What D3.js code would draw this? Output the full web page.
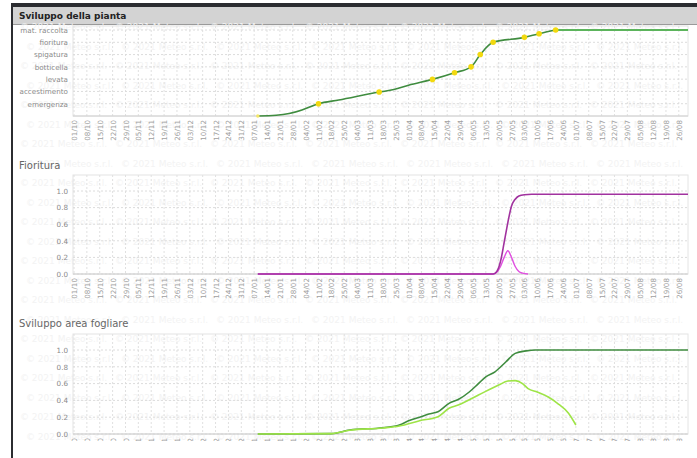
<!DOCTYPE html>
<html>
<head>
<meta charset="utf-8">
<script src="https://cdn.jsdelivr.net/npm/d3@7"></script>
<style>
  body { margin: 0; background: #fff; }
  svg { display: block; font-family: "DejaVu Sans", Verdana, sans-serif; }
</style>
</head>
<body>
<div id="chart"></div>
<script>
// Sviluppo della pianta: fase fenologica (0 = pre-emergenza)
var stageNames = ["emergenza", "accestimento", "levata", "botticella", "spigatura", "fioritura", "mat. raccolta"];
var stageDates = ["2021-01-09", "2021-01-19", "2021-01-26", "2021-02-02", "2021-02-11", "2021-02-22", "2021-03-16",
  "2021-03-24", "2021-04-01", "2021-04-14", "2021-04-26", "2021-05-05", "2021-05-10", "2021-05-17",
  "2021-06-03", "2021-06-11", "2021-06-20", "2021-08-31"];
var stageValues = [0, 0.06, 0.2, 0.49, 1.0, 1.3, 1.95, 2.15, 2.5, 2.98, 3.52, 4.0, 5.0, 6.0, 6.4, 6.7, 7.0, 7.0];
var stageMarks = ["2021-01-09", "2021-02-11", "2021-03-16", "2021-04-14", "2021-04-26", "2021-05-05",
  "2021-05-10", "2021-05-17", "2021-06-03", "2021-06-11", "2021-06-20"];

// Fioritura
var flowerDates = ["2021-01-09", "2021-05-17", "2021-05-19", "2021-05-21", "2021-05-23", "2021-05-25",
  "2021-05-27", "2021-05-29", "2021-05-31", "2021-06-03", "2021-06-07", "2021-08-31"];
var flowerCum = [0, 0, 0.03, 0.15, 0.38, 0.62, 0.82, 0.9, 0.94, 0.955, 0.96, 0.96];
var dailyDates = ["2021-01-09", "2021-05-17", "2021-05-19", "2021-05-21", "2021-05-23", "2021-05-25",
  "2021-05-27", "2021-05-29", "2021-05-31", "2021-06-02", "2021-06-05"];
var flowerDaily = [0, 0, 0.02, 0.09, 0.2, 0.28, 0.2, 0.09, 0.03, 0.01, 0];

// Sviluppo area fogliare
var leafDates = ["2021-01-09", "2021-02-18", "2021-02-28", "2021-03-18", "2021-03-27", "2021-04-01",
  "2021-04-07", "2021-04-12", "2021-04-17", "2021-04-23", "2021-04-28", "2021-05-04", "2021-05-09",
  "2021-05-13", "2021-05-18", "2021-05-24", "2021-05-29", "2021-06-04", "2021-06-09", "2021-08-31"];
var leafPotential = [0, 0.005, 0.048, 0.075, 0.107, 0.158, 0.2, 0.238, 0.265, 0.365, 0.41, 0.5, 0.6,
  0.68, 0.74, 0.86, 0.96, 0.99, 1.0, 1.0];
var greenDates = ["2021-01-09", "2021-02-18", "2021-02-28", "2021-03-18", "2021-03-27", "2021-04-07",
  "2021-04-17", "2021-04-23", "2021-04-28", "2021-05-09", "2021-05-20", "2021-05-25", "2021-05-29",
  "2021-06-02", "2021-06-05", "2021-06-10", "2021-06-16", "2021-06-21", "2021-06-27", "2021-07-01"];
var leafGreen = [0, 0.005, 0.045, 0.072, 0.095, 0.158, 0.206, 0.306, 0.345, 0.464, 0.583, 0.63, 0.635,
  0.6, 0.54, 0.5, 0.44, 0.365, 0.246, 0.107];

var W = 697, H = 458;
var parse = d3.timeParse("%Y-%m-%d");
var fmt = d3.timeFormat("%d/%m");
var start = parse("2020-10-01"), end = parse("2021-08-31");
var weeks = d3.timeThursday.range(start, end);

var svg = d3.select("#chart").append("svg")
  .attr("width", W)
  .attr("height", H);

// frame
svg.append("rect").attr("x", 11).attr("y", 3).attr("width", W - 11).attr("height", 4).attr("fill", "#2b2c30");
svg.append("rect").attr("x", 11).attr("y", 7).attr("width", W - 11).attr("height", 17).attr("fill", "#d3d3d3");
svg.append("line").attr("x1", 11).attr("x2", W).attr("y1", 24.5).attr("y2", 24.5).attr("stroke", "#9a9a9a");
svg.append("rect").attr("x", 11).attr("y", 3).attr("width", 2).attr("height", H - 3).attr("fill", "#2b2c30");
svg.append("text").attr("x", 19).attr("y", 19).attr("font-size", 9).attr("font-weight", "bold")
  .attr("fill", "#222").text("Sviluppo della pianta");

// watermark (very faint)
var wm = svg.append("g").attr("fill", "#f3f3f3").attr("font-size", 9);
d3.range(30, 440, 19.5).forEach(function(y, i) {
  d3.range(20 + (i % 2) * 6, W - 95, 95).forEach(function(x) {
    wm.append("text").attr("x", x).attr("y", y).text("© 2021 Meteo s.r.l.");
  });
});

var x = d3.scaleTime().domain([start, end]).range([74, 688]);

var panels = [
  { top: 26, base: 116, y: d3.scaleLinear().domain([0, 7]).range([116, 30]),
    ticks: [1, 2, 3, 4, 5, 6, 7], label: function(d) { return stageNames[d - 1]; } },
  { top: 175, base: 274, y: d3.scaleLinear().domain([0, 1]).range([274, 191]),
    ticks: [0, 0.2, 0.4, 0.6, 0.8, 1.0], label: d3.format(".1f"), title: "Fioritura", titleY: 169 },
  { top: 334, base: 434, y: d3.scaleLinear().domain([0, 1]).range([434, 350]),
    ticks: [0, 0.2, 0.4, 0.6, 0.8, 1.0], label: d3.format(".1f"), title: "Sviluppo area fogliare", titleY: 327 }
];

svg.append("clipPath").attr("id", "pageclip")
  .append("rect").attr("x", 0).attr("y", 0).attr("width", W).attr("height", 441);

panels.forEach(function(p) {
  var g = svg.append("g").attr("clip-path", "url(#pageclip)");
  if (p.title) {
    g.append("text").attr("x", 19).attr("y", p.titleY).attr("font-size", 10)
      .attr("fill", "#666").text(p.title);
  }
  g.append("rect").attr("x", 73).attr("y", p.top).attr("width", 615).attr("height", p.base - p.top)
    .attr("fill", "none").attr("stroke", "#e4e4e4");

  g.selectAll(".vg").data(weeks).enter().append("line")
    .attr("x1", d => x(d)).attr("x2", d => x(d))
    .attr("y1", p.top).attr("y2", p.base)
    .attr("stroke", "#e0e0e0").attr("stroke-dasharray", "2,2");
  g.selectAll(".hg").data(p.ticks).enter().append("line")
    .attr("x1", 73).attr("x2", 688)
    .attr("y1", d => p.y(d)).attr("y2", d => p.y(d))
    .attr("stroke", "#dcdcdc").attr("stroke-dasharray", "2,2");
  g.append("line").attr("x1", 73).attr("x2", 688).attr("y1", p.base).attr("y2", p.base)
    .attr("stroke", "#d0d0d0");

  var leftAxis = d3.axisLeft(p.y).tickValues(p.ticks).tickFormat(p.label).tickSize(0).tickPadding(5);
  var ly = g.append("g").attr("transform", "translate(73,0)").call(leftAxis);
  ly.select(".domain").remove();
  ly.selectAll("text").attr("fill", "#8a8a8a").attr("font-size", 7.2).attr("font-family", "DejaVu Sans, sans-serif");

  var bottomAxis = d3.axisBottom(x).tickValues(weeks).tickFormat(fmt).tickSize(0).tickPadding(0);
  var bx = g.append("g").attr("transform", "translate(0," + p.base + ")").call(bottomAxis);
  bx.select(".domain").remove();
  bx.selectAll("text")
    .attr("fill", "#a0a0a0").attr("font-size", 7.2).attr("font-family", "DejaVu Sans, sans-serif")
    .attr("transform", "rotate(-90)")
    .attr("text-anchor", "end")
    .attr("x", -4).attr("y", 0).attr("dy", "0.35em");
  p.g = g;
});

function drawLine(p, dates, values, color, width) {
  var pts = dates.map(function(d, i) { return [parse(d), values[i]]; });
  p.g.append("path").datum(pts)
    .attr("fill", "none").attr("stroke", color).attr("stroke-width", width)
    .attr("stroke-linejoin", "round")
    .attr("d", d3.line().x(d => x(d[0])).y(d => p.y(d[1])).curve(d3.curveMonotoneX));
}

// panel 1
var p1 = panels[0];
var lastMark = stageDates.indexOf("2021-06-20");
drawLine(p1, stageDates.slice(lastMark), stageValues.slice(lastMark), "#5cb45c", 2);
drawLine(p1, stageDates.slice(0, lastMark + 1), stageValues.slice(0, lastMark + 1), "#3f8c3f", 1.6);
p1.g.selectAll(".mk").data(stageMarks).enter().append("circle")
  .attr("cx", d => x(parse(d)))
  .attr("cy", d => p1.y(stageValues[stageDates.indexOf(d)]))
  .attr("r", (d, i) => i === 0 ? 1.8 : 2.8)
  .attr("fill", (d, i) => i === 0 ? "#f3e66a" : "#f2d90f");

// panel 2
var p2 = panels[1];
drawLine(p2, dailyDates, flowerDaily, "#e04fe0", 1.4);
drawLine(p2, flowerDates, flowerCum, "#a1329f", 1.6);

// panel 3
var p3 = panels[2];
drawLine(p3, leafDates, leafPotential, "#3f8c3f", 1.6);
drawLine(p3, greenDates, leafGreen, "#9ee447", 1.6);
</script>
</body>
</html>
